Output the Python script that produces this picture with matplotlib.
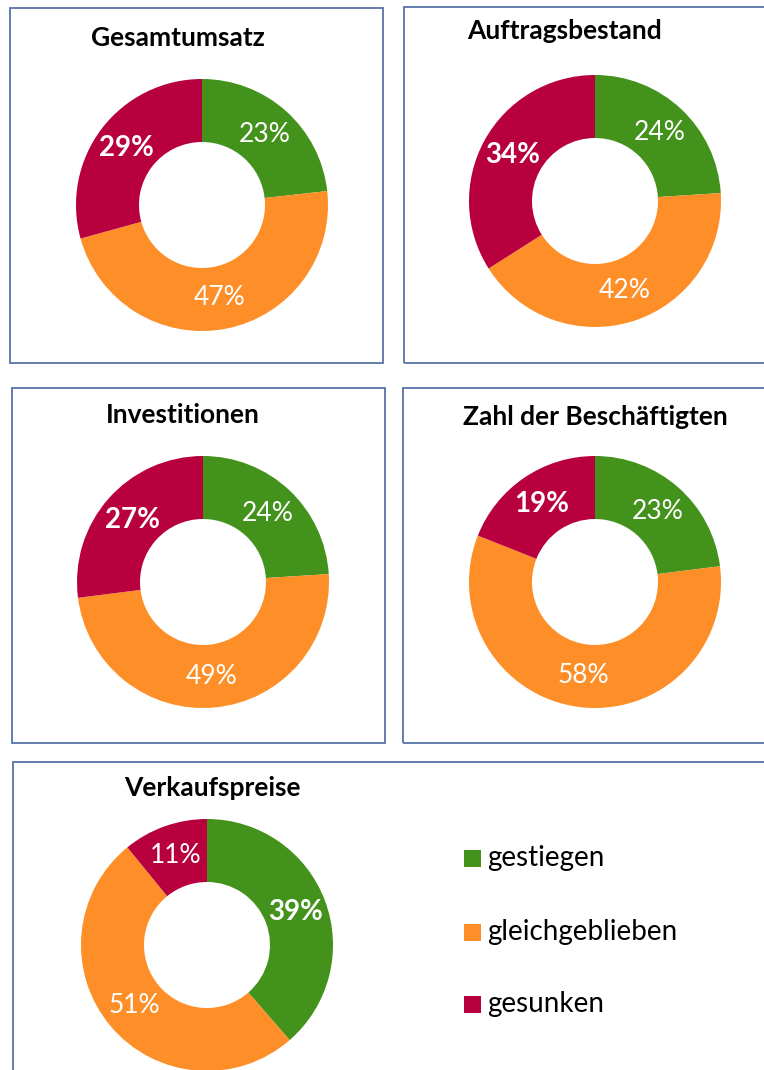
import matplotlib.pyplot as plt
from matplotlib.patches import Rectangle

plt.rcParams['font.family'] = ['Lato', 'DejaVu Sans']

# --- data ---
titles = ["Gesamtumsatz", "Auftragsbestand", "Investitionen",
          "Zahl der Beschäftigten", "Verkaufspreise"]
categories = ["gestiegen", "gleichgeblieben", "gesunken"]
gestiegen = [23, 24, 24, 23, 39]
gleichgeblieben = [47, 42, 49, 58, 51]
gesunken = [29, 34, 27, 19, 11]
bold_label = [2, 2, 2, 2, 0]  # index of the slice with a bold label

colors = ["#43921B", "#FD8E28", "#B8003F"]
box_color = "#5674A8"

W, H = 764, 1070
fig = plt.figure(figsize=(W / 100, H / 100), dpi=100)


def fx(x):
    return x / W


def fy(y):
    return 1 - y / H


# panel layout in pixels: box (x0, y0, x1, y1), donut centre, title centre
boxes = [(10, 8, 383, 363), (404, 7, 780, 363), (12, 388, 385, 743),
         (403, 388, 780, 743), (13, 762, 780, 1080)]
centres = [(202, 205), (595, 201), (203, 582), (595, 582), (207, 945)]
title_pos = [(178, 38), (565, 31), (183, 415), (595, 417), (212, 788)]
R = 126

for x0, y0, x1, y1 in boxes:
    fig.patches.append(Rectangle((fx(x0), fy(y1)), fx(x1 - x0), (y1 - y0) / H,
                                 transform=fig.transFigure, fill=False,
                                 edgecolor=box_color, linewidth=1.3))

for i, title in enumerate(titles):
    cx, cy = centres[i]
    ax = fig.add_axes([fx(cx - R), fy(cy + R), 2 * R / W, 2 * R / H])
    vals = [gestiegen[i], gleichgeblieben[i], gesunken[i]]
    wedges, texts, autotexts = ax.pie(
        vals, colors=colors, startangle=90, counterclock=False,
        radius=1.0, wedgeprops=dict(width=0.5, linewidth=0),
        autopct=lambda p: f"{p:.0f}%", pctdistance=0.75,
        textprops=dict(color="white", fontsize=19))
    for j, t in enumerate(autotexts):
        t.set_text(f"{vals[j]}%")
        if j == bold_label[i]:
            t.set_fontweight("bold")
            t.set_fontsize(20)
    ax.set_xlim(-1, 1)
    ax.set_ylim(-1, 1)
    tx, ty = title_pos[i]
    fig.text(fx(tx), fy(ty), title, ha="center", va="center",
             fontsize=19, fontweight="bold", color="black")

# legend
leg_y = [858, 932, 1004]
for k, name in enumerate(categories):
    y = leg_y[k]
    fig.patches.append(Rectangle((fx(464), fy(y + 8.5)), 17 / W, 17 / H,
                                 transform=fig.transFigure,
                                 facecolor=colors[k], edgecolor="none"))
    fig.text(fx(487), fy(y), name, ha="left", va="center",
             fontsize=20, color="black")

fig.savefig("out.png", dpi=100)
